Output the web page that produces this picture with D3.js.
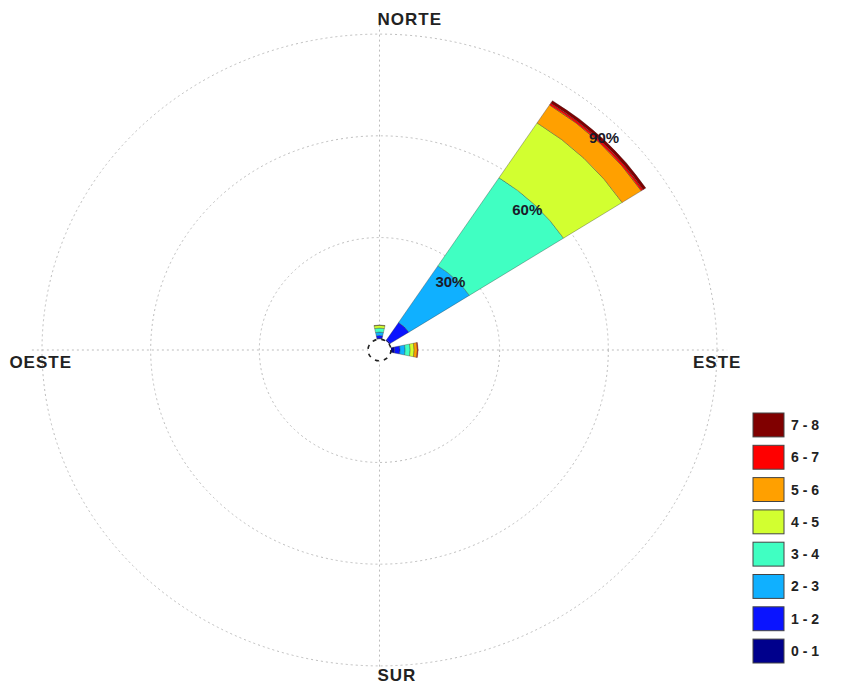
<!DOCTYPE html>
<html>
<head>
<meta charset="utf-8">
<script src="https://cdn.jsdelivr.net/npm/d3@7"></script>
<style>
  html, body { margin: 0; padding: 0; background: #fff; }
  svg { display: block; }
  text { font-family: "Liberation Sans", Arial, sans-serif; font-weight: bold; }
</style>
</head>
<body>
<svg id="chart" width="842" height="686"></svg>
<script>
// ---- data ----
const speedBins = ["0 - 1", "1 - 2", "2 - 3", "3 - 4", "4 - 5", "5 - 6", "6 - 7", "7 - 8"];
const binColors = ["#00008c", "#0a14ff", "#10b0ff", "#40ffc2", "#d2ff30", "#ffa000", "#ff0000", "#800000"];
const directions = [0, 45, 90];           // degrees, clockwise from north
const freqNorth = [0.3, 0.8, 1.0, 1.2, 0.8, 0.1, 0.0, 0.0];
const freqNE    = [0.3, 6.2, 19.9, 31.0, 19.3, 6.3, 0.6, 0.9];
const freqEast  = [1.0, 1.5, 1.4, 1.4, 1.1, 0.9, 0.2, 0.0];
const ringValues = [30, 60, 90];
const ringLabels = ["30%", "60%", "90%"];
const compassLabels = ["NORTE", "ESTE", "SUR", "OESTE"];

// ---- layout ----
const svg = d3.select("#chart");
const cx = 379.5, cy = 350, ky = 0.936;
const r0 = 11.5, R = 337.5;
const sectorWidth = 24 * Math.PI / 180;
const rScale = d3.scaleLinear().domain([0, 90]).range([r0, R]);

const plot = svg.append("g").attr("transform", `translate(${cx},${cy}) scale(1,${ky})`);

// grid rings
plot.selectAll("circle.ring").data(ringValues).join("circle")
  .attr("class", "ring")
  .attr("r", d => rScale(d))
  .attr("fill", "none")
  .attr("stroke", "#bdbdbd")
  .attr("stroke-width", 1)
  .attr("stroke-dasharray", "2,3")
  .attr("vector-effect", "non-scaling-stroke");

// axis lines
const ext = R * 1.03;
plot.append("line").attr("x1", -ext).attr("x2", ext).attr("y1", 0).attr("y2", 0)
  .attr("stroke", "#bdbdbd").attr("stroke-dasharray", "2,3").attr("vector-effect", "non-scaling-stroke");
plot.append("line").attr("x1", 0).attr("x2", 0).attr("y1", -ext).attr("y2", ext)
  .attr("stroke", "#bdbdbd").attr("stroke-dasharray", "2,3").attr("vector-effect", "non-scaling-stroke");

// wedges
const series = [freqNorth, freqNE, freqEast];
const arc = d3.arc();
series.forEach((vals, i) => {
  const ang = directions[i] * Math.PI / 180;
  const cum = d3.cumsum(vals);
  const segs = vals.map((v, j) => ({
    inner: rScale(j === 0 ? 0 : cum[j - 1]),
    outer: rScale(cum[j]),
    color: binColors[j],
    v
  })).filter(s => s.v > 0);
  plot.append("g").selectAll("path").data(segs).join("path")
    .attr("d", s => arc({innerRadius: s.inner, outerRadius: s.outer,
                         startAngle: ang - sectorWidth / 2, endAngle: ang + sectorWidth / 2}))
    .attr("fill", s => s.color)
    .attr("stroke", "#333")
    .attr("stroke-width", 0.5)
    .attr("stroke-opacity", 0.7)
    .attr("vector-effect", "non-scaling-stroke");
});

// inner dashed circle
plot.append("circle").attr("r", r0)
  .attr("fill", "#fff")
  .attr("stroke", "#222")
  .attr("stroke-width", 1.6)
  .attr("stroke-dasharray", "4,5")
  .attr("vector-effect", "non-scaling-stroke");

// ring labels along 45°
const a45 = Math.PI / 4;
svg.selectAll("text.ringlab").data(ringValues).join("text")
  .attr("class", "ringlab")
  .attr("x", d => cx + rScale(d) * Math.sin(a45) + 1)
  .attr("y", d => cy - ky * rScale(d) * Math.cos(a45) + 5)
  .attr("text-anchor", "end")
  .attr("dominant-baseline", "hanging")
  .attr("font-size", 15)
  .attr("fill", "#1a1a2a")
  .text((d, i) => ringLabels[i]);

// compass labels
const lab = [
  {t: compassLabels[0], x: cx - 2, y: cy - ky * R - 9, anchor: "start"},
  {t: compassLabels[1], x: cx + R - 24, y: cy + 18, anchor: "start"},
  {t: compassLabels[2], x: cx - 2, y: cy + ky * R + 15, anchor: "start"},
  {t: compassLabels[3], x: cx - R + 30, y: cy + 18, anchor: "end"}
];
svg.selectAll("text.comp").data(lab).join("text")
  .attr("class", "comp")
  .attr("x", d => d.x).attr("y", d => d.y)
  .attr("text-anchor", d => d.anchor)
  .attr("font-size", 17)
  .attr("letter-spacing", 1)
  .attr("fill", "#222")
  .text(d => d.t);

// legend
const legendOrder = d3.range(speedBins.length).reverse();
const ly = d3.scaleBand().domain(legendOrder).range([413, 663]).paddingInner(0.26).paddingOuter(0);
const leg = svg.append("g");
leg.selectAll("rect").data(legendOrder).join("rect")
  .attr("x", 753).attr("y", d => ly(d))
  .attr("width", 31).attr("height", ly.bandwidth())
  .attr("fill", d => binColors[d])
  .attr("stroke", "#444").attr("stroke-width", 1);
leg.selectAll("text").data(legendOrder).join("text")
  .attr("x", 791).attr("y", d => ly(d) + ly.bandwidth() / 2)
  .attr("dominant-baseline", "central")
  .attr("font-size", 14)
  .attr("fill", "#222")
  .text(d => speedBins[d]);
</script>
</body>
</html>
